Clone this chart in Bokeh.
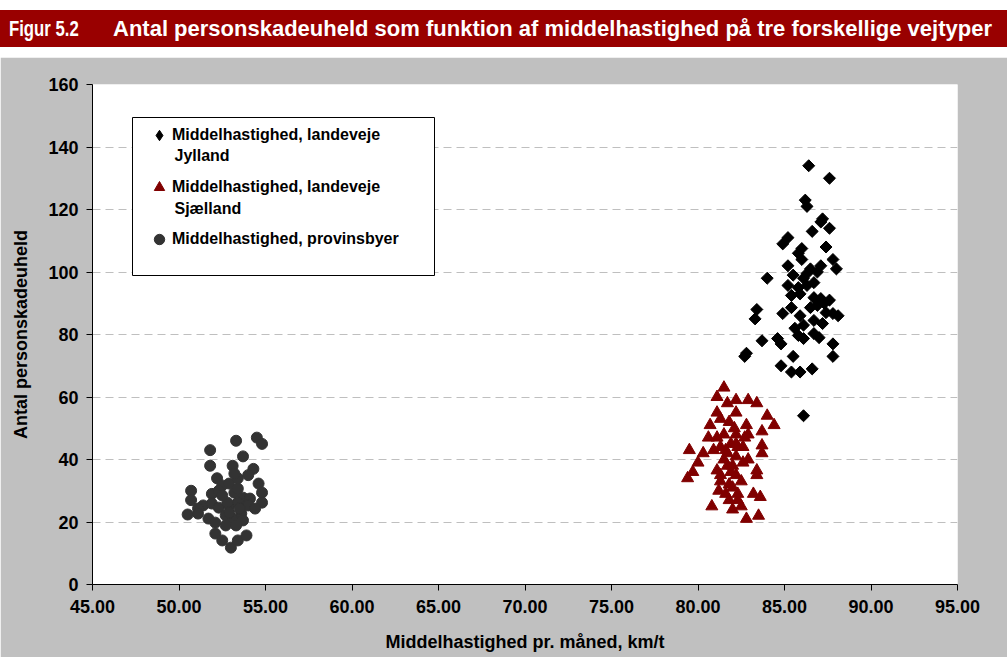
import math
from bokeh.plotting import figure
from bokeh.models import (Div, Legend, LegendItem, Label, BoxAnnotation, FixedTicker,
                          PrintfTickFormatter)
from bokeh.layouts import column
from bokeh.embed import file_html
from bokeh.resources import INLINE

# ---------------- data ----------------
title_num = "Figur 5.2"
title_text = "Antal personskadeuheld som funktion af middelhastighed på tre forskellige vejtyper"
x_label = "Middelhastighed pr. måned, km/t"
y_label = "Antal personskadeuheld"

series_names = ["Middelhastighed, landeveje", "Middelhastighed, landeveje", "Middelhastighed, provinsbyer"]
series_second_lines = ["Jylland", "Sjælland", ""]

jyl_x = [86.4, 87.6, 86.2, 86.3, 87.2, 87.1, 86.6, 87.6, 85.2, 84.9, 86.0, 85.8, 87.4, 86.0,
         87.8, 88.0, 85.2, 86.5, 87.1, 84.0, 85.5, 86.1, 86.3, 85.2, 85.8, 86.3, 86.7, 85.4,
         85.9, 86.7, 87.1, 87.3, 83.4, 83.3, 84.9, 85.4, 85.9, 86.5, 86.9, 87.4, 87.8, 88.1,
         86.7, 87.2, 86.1, 83.7, 84.6, 84.8, 85.8, 86.1, 86.7, 87.0, 87.8, 87.8, 82.8, 82.7,
         85.5, 84.8, 85.4, 85.9, 86.6, 86.1, 87.6, 85.6, 86.9]
jyl_y = [134, 130, 123, 121, 117, 116, 113, 114, 111, 109, 107.5, 106, 108, 104,
         104, 101, 102, 101, 102, 98, 99, 98, 99.5, 95.7, 95, 95.7, 96.6, 92.5,
         93, 91.8, 91.5, 90, 88, 85, 86.7, 88.6, 86, 88.6, 89.3, 87, 86.7, 86,
         84.5, 83.5, 83, 78, 78.7, 77, 79.7, 78.7, 80.3, 79, 77, 73, 74, 73,
         73, 70, 68, 68, 69, 54, 91, 82, 100]

sja_x = [81.5, 81.1, 81.7, 82.2, 82.9, 83.4, 81.1, 82.2, 81.3, 80.7, 81.8, 82.8, 84.0, 84.4,
         83.7, 82.2, 82.9, 80.6, 81.1, 81.5, 79.5, 80.3, 80.9, 81.3, 81.6, 82.2, 82.3, 83.7,
         83.7, 82.9, 82.6, 80.0, 79.7, 79.4, 81.1, 81.3, 81.7, 82.0, 83.4, 83.4, 82.2, 81.2,
         81.6, 81.8, 82.3, 82.3, 83.2, 83.6, 80.8, 81.8, 82.0, 82.5, 82.8, 83.5, 81.7, 81.9,
         82.2, 81.5, 82.6, 81.9, 82.5, 81.3, 82.0, 82.7, 82.1]
sja_y = [63, 60, 58, 59, 59, 58, 55, 55, 53, 51, 52, 51, 54, 51,
         49, 48, 48, 47, 47, 48, 43, 42, 43, 44, 43, 45, 44, 44.5,
         42, 40, 39, 39, 36, 34, 36.5, 35, 38, 38, 36.5, 35, 35, 30,
         29, 32, 29, 27, 29, 28, 25, 27, 24, 25, 21, 22, 42, 45,
         41, 40, 44, 36, 33, 33, 31, 47, 50]

prov_x = [51.8, 53.3, 54.5, 54.8, 51.8, 53.7, 52.2, 53.1, 54.3, 52.5, 52.9, 53.4, 54.0, 54.6,
          54.8, 50.7, 50.7, 51.9, 52.3, 53.2, 53.7, 54.1, 51.4, 51.1, 51.9, 52.3, 52.9, 53.4,
          54.0, 54.8, 54.4, 50.5, 51.1, 51.7, 52.1, 52.7, 53.1, 53.6, 53.7, 52.7, 53.3, 52.1,
          52.5, 53.0, 53.4, 53.9, 52.8, 53.2, 52.5, 53.4, 52.9, 53.5]
prov_y = [43, 46, 47, 45, 38, 41, 34, 38, 37, 31.7, 32.3, 34, 35, 32.3,
          29.4, 30, 27, 29, 30, 29.4, 27.8, 27.5, 25.3, 24.3, 25.9, 24.6, 25.3, 26.2,
          25.3, 26.2, 24.3, 22.4, 22.7, 21.1, 19.8, 22.1, 21.1, 22.7, 20.5, 18.9, 18.9, 16.3,
          14.1, 11.8, 14.1, 15.7, 26.2, 35.5, 28.5, 30.7, 23, 24.3]

x_ticks = [45, 50, 55, 60, 65, 70, 75, 80, 85, 90, 95]
y_ticks = [0, 20, 40, 60, 80, 100, 120, 140, 160]

FONT = "Liberation Sans"
W = 1007

# ---------------- title bar ----------------
span_style = (f"position:absolute;top:10px;line-height:37px;color:white;"
              f"font-family:'{FONT}';font-weight:bold;font-size:22px;white-space:nowrap;"
              f"transform-origin:left center;")
div_html = (
    f'<div style="position:relative;width:{W}px;height:57px;background:white;">'
    f'<div style="position:absolute;left:0;top:10px;width:{W}px;height:37px;background:#990000;"></div>'
    f'<span style="{span_style}left:9px;transform:scaleX(0.76);">{title_num}</span>'
    f'<span style="{span_style}left:113px;">{title_text}</span>'
    '</div>'
)
title_div = Div(text=div_html, width=W, height=57, margin=0)

# ---------------- figure ----------------
p = figure(width=W, height=600, x_range=(45, 95), y_range=(0, 160),
           output_backend="svg", toolbar_location=None,
           min_border_left=92, min_border_right=50, min_border_top=27, min_border_bottom=73,
           border_fill_color="#C0C0C0", background_fill_color="white",
           outline_line_color=None)

# legend-key glyph for the Jylland series (legend markers are drawn unrotated);
# it sits on the first Jylland point, hidden beneath the real marker
r_jyl_key = p.scatter(jyl_x[:1], jyl_y[:1], marker="diamond", size=5,
                      fill_color="black", line_color="black")
r_jyl = p.scatter(jyl_x, jyl_y, marker="square", angle=math.pi / 4, size=8.5,
                  fill_color="black", line_color="black")
r_sja = p.scatter(sja_x, sja_y, marker="triangle", size=12,
                  fill_color="#800000", line_color="#800000")
r_prov = p.scatter(prov_x, prov_y, marker="circle", size=11,
                   fill_color="#333333", line_color="#333333")

# axes
for ax in (p.xaxis[0], p.yaxis[0]):
    ax.axis_line_color = "black"
    ax.axis_line_width = 1
    ax.major_tick_line_color = "black"
    ax.major_tick_in = 0
    ax.major_tick_out = 6
    ax.minor_tick_line_color = None
    ax.major_label_text_font = FONT
    ax.major_label_text_font_style = "bold"
    ax.major_label_text_font_size = "18px"
    ax.major_label_text_color = "black"
    ax.axis_label_text_font = FONT
    ax.axis_label_text_font_style = "bold"
    ax.axis_label_text_font_size = "18px"
    ax.axis_label_text_color = "black"

p.xaxis[0].ticker = FixedTicker(ticks=x_ticks)
p.xaxis[0].formatter = PrintfTickFormatter(format="%.2f")
p.xaxis[0].axis_label = x_label
p.xaxis[0].major_label_standoff = 9
p.xaxis[0].axis_label_standoff = 16

p.yaxis[0].ticker = FixedTicker(ticks=y_ticks)
p.yaxis[0].axis_label = y_label
p.yaxis[0].major_label_standoff = 8
p.yaxis[0].axis_label_standoff = 14

p.xgrid.visible = False
p.ygrid.grid_line_color = "#BFBFBF"
p.ygrid.grid_line_dash = "8 5"
p.ygrid.grid_line_width = 1

# legend box
box = BoxAnnotation(left=40, right=342, bottom=309, top=467,
                    left_units="screen", right_units="screen",
                    bottom_units="screen", top_units="screen",
                    fill_color="white", fill_alpha=1.0,
                    line_color="black", line_width=1, line_alpha=1.0)
p.add_layout(box)

legend = Legend(items=[
    LegendItem(label=series_names[0], renderers=[r_jyl_key]),
    LegendItem(label=series_names[1], renderers=[r_sja]),
    LegendItem(label=series_names[2], renderers=[r_prov]),
], location=(54, 332), padding=0, margin=0, spacing=26,
    glyph_width=26, glyph_height=26, label_standoff=0,
    label_text_font=FONT, label_text_font_style="bold", label_text_font_size="16px",
    label_text_color="black",
    background_fill_alpha=0, border_line_color=None)
p.add_layout(legend, "center")

for txt, yy in ((series_second_lines[0], 429), (series_second_lines[1], 376)):
    p.add_layout(Label(x=82, y=yy, x_units="screen", y_units="screen", text=txt,
                       text_font=FONT, text_font_style="bold", text_font_size="16px",
                       text_color="black", text_baseline="middle", text_align="left"))

layout = column(title_div, p, spacing=0)
open("out.html", "w").write(file_html(layout, INLINE))
